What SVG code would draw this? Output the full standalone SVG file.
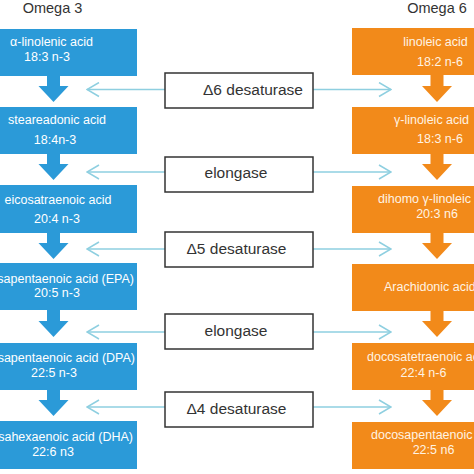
<svg xmlns="http://www.w3.org/2000/svg" width="474" height="474" viewBox="0 0 474 474">
<defs>
<style>
.b{fill:#2b9ad8}
.o{fill:#f28a1a}
.tb{fill:#ffffff;font-family:"Liberation Sans",Arial,sans-serif;font-size:12.5px}
.to{fill:#fff3e3;font-family:"Liberation Sans",Arial,sans-serif;font-size:12.5px}
.hd{fill:#333333;font-family:"Liberation Sans",Arial,sans-serif;font-size:14.5px;text-anchor:middle}
.ez{fill:#ffffff;stroke:#333333;stroke-width:1.5}
.et{fill:#333333;font-family:"Liberation Sans",Arial,sans-serif;font-size:15.5px;text-anchor:middle}
.c{stroke:#8ecfe0;stroke-width:1.5;fill:none}
.m{text-anchor:middle}
.e{text-anchor:end}
</style>
<marker id="ah" viewBox="0 0 14 16" refX="13" refY="8" markerWidth="14" markerHeight="16" markerUnits="userSpaceOnUse" orient="auto">
<path d="M1,1 L13,8 L1,15" fill="none" stroke="#8ecfe0" stroke-width="1.5"/>
</marker>
<path id="da" d="M-6.5,0 H6.5 V11 H15 L0,27 L-15,11 H-6.5 Z"/>
</defs>
<rect width="474" height="474" fill="#ffffff"/>

<text class="hd" x="52.5" y="13">Omega 3</text>
<text class="hd" x="437" y="13">Omega 6</text>

<g id="connectors">
<line class="c" x1="165" y1="89.5" x2="87" y2="89.5" marker-end="url(#ah)"/>
<line class="c" x1="313" y1="89.5" x2="391" y2="89.5" marker-end="url(#ah)"/>
<line class="c" x1="165" y1="172" x2="87" y2="172" marker-end="url(#ah)"/>
<line class="c" x1="313" y1="172" x2="391" y2="172" marker-end="url(#ah)"/>
<line class="c" x1="165" y1="249" x2="87" y2="249" marker-end="url(#ah)"/>
<line class="c" x1="313" y1="249" x2="391" y2="249" marker-end="url(#ah)"/>
<line class="c" x1="165" y1="332" x2="87" y2="332" marker-end="url(#ah)"/>
<line class="c" x1="313" y1="332" x2="391" y2="332" marker-end="url(#ah)"/>
<line class="c" x1="165" y1="407" x2="87" y2="407" marker-end="url(#ah)"/>
<line class="c" x1="313" y1="407" x2="391" y2="407" marker-end="url(#ah)"/>
<use href="#da" class="b" x="53.5" y="75"/>
<use href="#da" class="b" x="53.5" y="153"/>
<use href="#da" class="b" x="53.5" y="232"/>
<use href="#da" class="b" x="53.5" y="310"/>
<use href="#da" class="b" x="53.5" y="389"/>
<use href="#da" class="o" x="437" y="75"/>
<use href="#da" class="o" x="437" y="153"/>
<use href="#da" class="o" x="437" y="232"/>
<use href="#da" class="o" x="437" y="310"/>
<use href="#da" class="o" x="437" y="389"/>
</g>

<g id="ala"><rect class="b" x="-2" y="29" width="139" height="47"/>
<text class="tb e" x="93" y="46">α-linolenic acid</text><text class="tb m" x="47" y="61">18:3 n-3</text></g>
<g id="sda"><rect class="b" x="-2" y="107" width="139" height="47"/>
<text class="tb m" x="57" y="124">steareadonic acid</text><text class="tb m" x="55" y="144">18:4n-3</text></g>
<g id="eta"><rect class="b" x="-2" y="185" width="139" height="48"/>
<text class="tb m" x="58" y="204">eicosatraenoic acid</text><text class="tb m" x="57" y="223">20:4 n-3</text></g>
<g id="epa"><rect class="b" x="-2" y="263" width="139" height="47"/>
<text class="tb e" x="134" y="283">sapentaenoic acid (EPA)</text><text class="tb m" x="57" y="297">20:5 n-3</text></g>
<g id="dpa"><rect class="b" x="-2" y="343" width="139" height="47"/>
<text class="tb e" x="135" y="362">sapentaenoic acid (DPA)</text><text class="tb m" x="54" y="377">22:5 n-3</text></g>
<g id="dha"><rect class="b" x="-2" y="421" width="139" height="48"/>
<text class="tb e" x="133" y="441">sahexaenoic acid (DHA)</text><text class="tb m" x="53" y="456">22:6 n3</text></g>

<g id="la"><rect class="o" x="352" y="28" width="124" height="47"/>
<text class="to m" x="435.5" y="46">linoleic acid</text><text class="to m" x="440" y="66">18:2 n-6</text></g>
<g id="gla"><rect class="o" x="352" y="107" width="124" height="47"/>
<text class="to" x="394" y="124">γ-linoleic acid</text><text class="to m" x="440" y="143">18:3 n-6</text></g>
<g id="dgla"><rect class="o" x="352" y="186" width="124" height="47"/>
<text class="to" x="378" y="203">dihomo γ-linoleic</text><text class="to m" x="437" y="218">20:3 n6</text></g>
<g id="aa"><rect class="o" x="352" y="264" width="124" height="47"/>
<text class="to" x="384" y="291">Arachidonic acid</text></g>
<g id="dta"><rect class="o" x="352" y="343" width="124" height="47"/>
<text class="to" x="367" y="361">docosatetraenoic acid</text><text class="to m" x="423.5" y="377">22:4 n-6</text></g>
<g id="dpa6"><rect class="o" x="352" y="422" width="124" height="47"/>
<text class="to" x="371" y="439">docosapentaenoic</text><text class="to m" x="433.5" y="454">22:5 n6</text></g>

<g id="d6"><rect class="ez" x="165" y="73" width="148" height="35"/><text class="et" x="253" y="95">Δ6 desaturase</text></g>
<g id="el1"><rect class="ez" x="165" y="157" width="148" height="35"/><text class="et" x="236" y="178">elongase</text></g>
<g id="d5"><rect class="ez" x="165" y="232" width="148" height="35"/><text class="et" x="236.5" y="254">Δ5 desaturase</text></g>
<g id="el2"><rect class="ez" x="165" y="314" width="148" height="35"/><text class="et" x="236" y="336">elongase</text></g>
<g id="d4"><rect class="ez" x="165" y="392" width="148" height="35"/><text class="et" x="236.5" y="414">Δ4 desaturase</text></g>
</svg>
